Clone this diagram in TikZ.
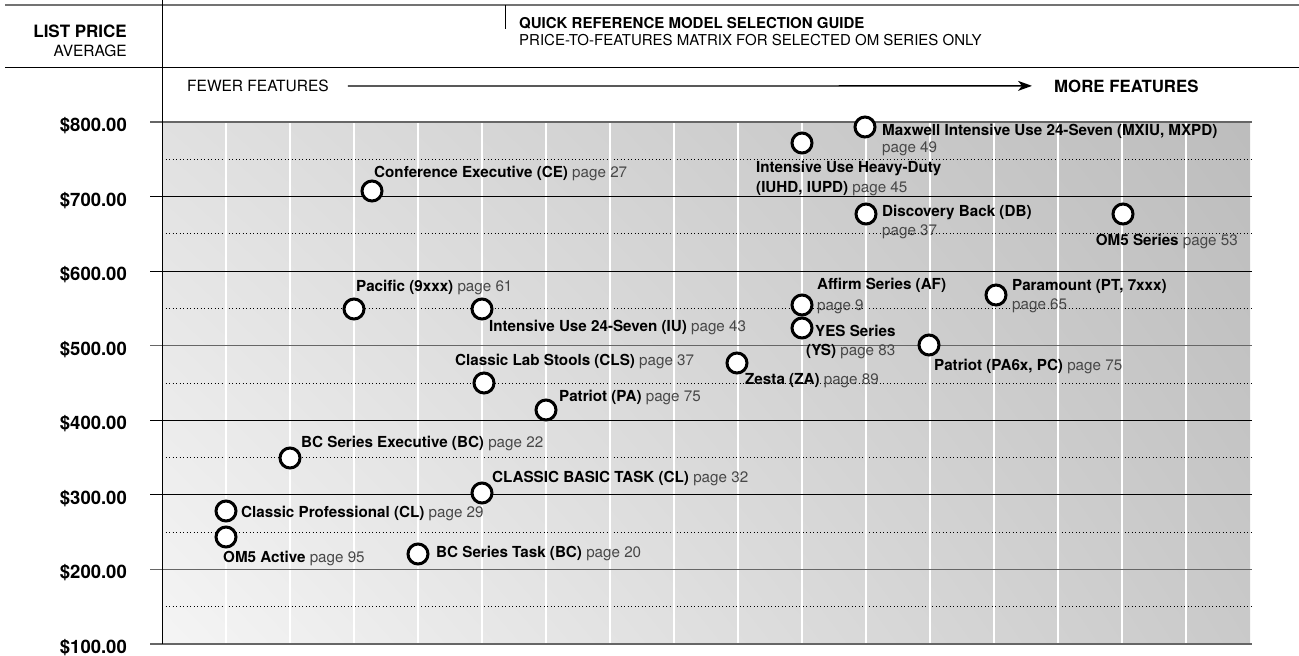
\documentclass[tikz,border=0pt]{standalone}
\usepackage{fontspec}
\setmainfont{TeX Gyre Heros}
\usetikzlibrary{arrows.meta, shadings}

\definecolor{pagegray}{gray}{0.28}
\newcommand{\model}[2]{{\bfseries #1} {\color{pagegray}#2}}

\begin{document}
\begin{tikzpicture}[x=1pt, y=-1pt,
   seat/.style={circle, draw=black, fill=white, line width=3pt, minimum size=20pt, inner sep=0pt},
   lbl/.style={anchor=base west, inner sep=0pt, align=left, font=\fontsize{15.2}{19}\selectfont},
   price/.style={anchor=base east, inner sep=0pt, font=\fontsize{18.5}{20}\selectfont\bfseries},
   head/.style={inner sep=0pt, font=\fontsize{15}{16}\selectfont},]
   \useasboundingbox (0,0) rectangle (1299,656);

   % header
   \draw[line width=1.5pt, black!55] (5,5) -- (1299,5);
   \draw[line width=1pt] (5,67) -- (1299,67);
   \draw[line width=1pt] (505,5) -- (505,29);
   \node[head, anchor=base east, font=\fontsize{17}{17}\selectfont\bfseries] (listprice) at (127,37) {LIST PRICE};
   \node[head, anchor=base east, font=\fontsize{15.5}{16}\selectfont] (average) at (127,56.5) {AVERAGE};
   \node[head, anchor=base west, font=\fontsize{15}{16}\selectfont\bfseries] (title) at (519,28.5) {QUICK REFERENCE MODEL SELECTION GUIDE};
   \node[head, anchor=base west] (subtitle) at (519,45.5) {PRICE-TO-FEATURES MATRIX FOR SELECTED OM SERIES ONLY};

   % matrix background
   \shade[upper left=black!12, upper right=black!26, lower left=black!4, lower right=black!21] (162,122) rectangle (1250,644);
   \foreach \p in {750,650,...,150} {
      \pgfmathsetmacro\yy{122+(800-\p)*0.74571}
      \draw[line width=0.9pt, dash pattern=on 0.9pt off 2.6pt] (162,\yy) -- (1252,\yy);
   }
   \foreach \i in {1,...,16}
      \draw[white, line width=2pt] (162+64*\i,122) -- (162+64*\i,644);
   \foreach \p/\c/\w in {800/black!60/1.5, 700/black/1, 600/black/1, 500/black!60/1.5, 400/black/1, 300/black/1, 200/black!60/1.5, 100/black!60/1.5} {
      \pgfmathsetmacro\yy{122+(800-\p)*0.74571}
      \draw[\c, line width=\w pt] (150,\yy) -- (1252,\yy);
      \node[price] (price\p) at (127,\yy+9.5) {\$\p.00};
   }
   \draw[line width=1pt] (162,0) -- (162,644);

   % features axis
   \node[head, anchor=base west, font=\fontsize{15.5}{16}\selectfont] (fewer) at (187,91.6) {FEWER FEATURES};
   \node[head, anchor=base west, font=\fontsize{16.8}{17}\selectfont\bfseries] (more) at (1054,92) {MORE FEATURES};
   \draw[line width=1.3pt, -{Stealth[length=14pt, width=10pt, inset=4pt]}, shorten <=19pt, shorten >=22pt] (fewer.east) -- (more.west);

   % models
   \node[seat] (mx) at (865,127) {};
   \node[seat] (iuhd) at (802,143) {};
   \node[seat] (ce) at (372,191) {};
   \node[seat] (db) at (866,214) {};
   \node[seat] (om5s) at (1123,214) {};
   \node[seat] (pt) at (996,295) {};
   \node[seat] (af) at (802,305) {};
   \node[seat] (pac) at (354,309) {};
   \node[seat] (iu) at (482,309) {};
   \node[seat] (ys) at (802,328) {};
   \node[seat] (pa6) at (929,345) {};
   \node[seat] (za) at (737,363) {};
   \node[seat] (cls) at (484,383) {};
   \node[seat] (pa) at (546,410) {};
   \node[seat] (bce) at (290,458) {};
   \node[seat] (clb) at (482,493) {};
   \node[seat] (clp) at (226,511) {};
   \node[seat] (om5a) at (226,537) {};
   \node[seat] (bct) at (418,554) {};

   % labels (two-line ones sit on their last line)
   \node[lbl, font=\fontsize{15.2}{17}\selectfont] (mx-l) at (882,152.5) {{\bfseries Maxwell Intensive Use 24-Seven (MXIU, MXPD)}\\{\color{pagegray}page 49}};
   \node[lbl, font=\fontsize{15.2}{20}\selectfont] (iuhd-l) at (756,192.5) {{\bfseries Intensive Use Heavy-Duty}\\\model{(IUHD, IUPD)}{page 45}};
   \node[lbl] (ce-l) at (374,177.5) {\model{Conference Executive (CE)}{page 27}};
   \node[lbl] (db-l) at (882,235.5) {{\bfseries Discovery Back (DB)}\\{\color{pagegray}page 37}};
   \node[lbl, anchor=base east] (om5s-l) at (1238,245.5) {\model{OM5 Series}{page 53}};
   \node[lbl] (pt-l) at (1012,309.5) {{\bfseries Paramount (PT, 7xxx)}\\{\color{pagegray}page 65}};
   \node[lbl, font=\fontsize{15.2}{21}\selectfont] (af-l) at (817,310.5) {{\bfseries Affirm Series (AF)}\\{\color{pagegray}page 9}};
   \node[lbl] (pac-l) at (356,291.5) {\model{Pacific (9xxx)}{page 61}};
   \node[lbl] (iu-l) at (489,331.5) {\model{Intensive Use 24-Seven (IU)}{page 43}};
   \node[lbl] (ys-l) at (815,355.5) {{\bfseries YES Series}\\\hspace*{-9pt}\model{(YS)}{page 83}};
   \node[lbl] (pa6-l) at (934,370.5) {\model{Patriot (PA6x, PC)}{page 75}};
   \node[lbl] (za-l) at (745,384.5) {\model{Zesta (ZA)}{page 89}};
   \node[lbl] (cls-l) at (455,365.5) {\model{Classic Lab Stools (CLS)}{page 37}};
   \node[lbl] (pa-l) at (559,401.5) {\model{Patriot (PA)}{page 75}};
   \node[lbl] (bce-l) at (301,447.5) {\model{BC Series Executive (BC)}{page 22}};
   \node[lbl] (clb-l) at (492,482.5) {\model{CLASSIC BASIC TASK (CL)}{page 32}};
   \node[lbl] (clp-l) at (241,517.5) {\model{Classic Professional (CL)}{page 29}};
   \node[lbl] (om5a-l) at (223,562.5) {\model{OM5 Active}{page 95}};
   \node[lbl] (bct-l) at (436,557.5) {\model{BC Series Task (BC)}{page 20}};

   \end{tikzpicture}
\end{document}
